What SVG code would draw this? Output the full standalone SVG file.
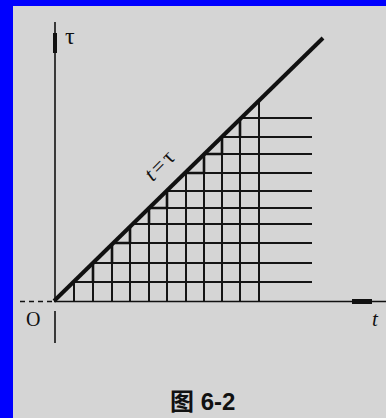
<svg xmlns="http://www.w3.org/2000/svg" width="386" height="418" viewBox="0 0 386 418">
<style>
.ln{stroke:#111;fill:none;stroke-linecap:butt}
.grid{stroke:#151515;stroke-width:2;fill:none}
.stair{stroke:#111;stroke-width:2.6;fill:none}
.lbl{font-family:"Liberation Serif","DejaVu Serif",serif;fill:#111}
</style>
<rect x="0" y="0" width="386" height="418" fill="#d5d5d5"/>
<rect x="0" y="0" width="13" height="418" fill="#0000ff"/>
<rect x="0" y="0" width="386" height="6" fill="#0000ff"/>
<g id="grid">
<path class="grid" d="M74,281 V301 M93,263 V301 M112,244 V301 M130,227 V301 M149,208 V301 M167,190.5 V301 M186,172 V301 M204,154 V301 M222,137 V301 M240,119 V301 M259,100.6 V301"/>
<path class="grid" d="M241,118 H312 M222,137 H312 M204,154 H312 M185,173 H312 M166.5,191 H312 M149,208 H312 M133,224 H312 M113,243 H312 M93,263 H312 M73.4,282 H312"/>
<path class="stair" d="M93,263 V282 M112,244 V263 M130,227 V243 M149,208 V224 M167,190.5 V208 M204,154 V173 M222,137 V154 M240,119 V137 M113,243 H130 M149,208 H167 M185,173 H204 M204,154 H222"/>
</g>
<g id="axes">
<path class="ln" stroke-width="1.6" d="M55,22 V301"/>
<path class="ln" stroke-width="4" d="M55,33 V53"/>
<path class="ln" stroke-width="1.6" d="M55,311 V343"/>
<path class="ln" stroke-width="1.6" d="M54,301.5 H386"/>
<path class="ln" stroke-width="1.6" stroke-dasharray="5,4" d="M20,301.5 H52"/>
<path class="ln" stroke-width="5" d="M352,301.5 H372"/>
</g>
<g id="diagonal">
<path class="ln" stroke-width="4" d="M54,301 L323,38"/>
</g>
<g id="labels">
<text class="lbl" x="164" y="170" font-size="22" letter-spacing="3" text-anchor="middle" transform="rotate(-45.5 164 168)"><tspan font-style="italic">t</tspan>=τ</text>
<text class="lbl" x="65" y="44" font-size="24">τ</text>
<text class="lbl" x="26" y="326" font-size="20">O</text>
<text class="lbl" x="372" y="326" font-size="21" font-style="italic">t</text>
<text x="170" y="410" font-size="24" font-weight="bold" font-family="Liberation Sans,'Noto Sans CJK SC',sans-serif" fill="#111">图 6-2</text>
</g>
</svg>
